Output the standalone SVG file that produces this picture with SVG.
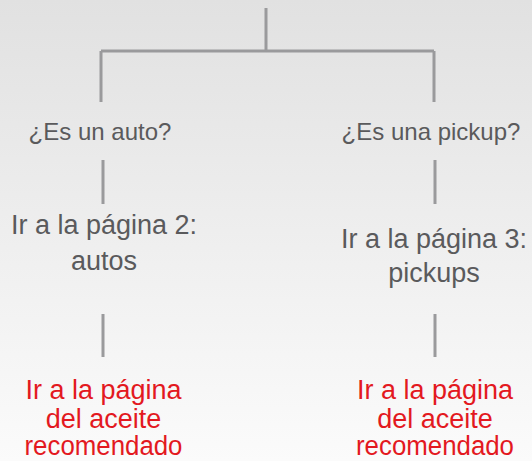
<svg xmlns="http://www.w3.org/2000/svg" width="532" height="461" viewBox="0 0 532 461">
<defs>
<linearGradient id="bg" x1="0" y1="0" x2="0" y2="1">
<stop offset="0" stop-color="#e1e1e1"/>
<stop offset="1" stop-color="#fbfbfb"/>
</linearGradient>
<style>
.ln{stroke:#9a9a9c;stroke-width:3;fill:none}
.t{font-family:"Liberation Sans",Arial,sans-serif;fill:#5a5a5c;text-anchor:middle}
.q{font-size:24px}
.g{font-size:27px}
.r{font-family:"Liberation Sans",Arial,sans-serif;fill:#e3191f;text-anchor:middle;font-size:27px}
</style>
</defs>
<rect width="532" height="461" fill="url(#bg)"/>
<g id="connectors">
<path class="ln" d="M266 8V51M101 51H434M101 51V102M434 51V102"/>
<path class="ln" d="M103 160V204M435 160V204"/>
<path class="ln" d="M103 314V357M435 314V357"/>
</g>
<g id="q-auto"><text class="t q" x="100" y="140">¿Es un auto?</text></g>
<g id="q-pickup"><text class="t q" x="431" y="140">¿Es una pickup?</text></g>
<g id="p-autos"><text class="t g" x="104" y="234">Ir a la página 2:</text><text class="t g" x="104" y="270">autos</text></g>
<g id="p-pickups"><text class="t g" x="434" y="248">Ir a la página 3:</text><text class="t g" x="434" y="282">pickups</text></g>
<g id="aceite-left"><text class="r" x="103.5" y="399">Ir a la página</text><text class="r" x="103.5" y="428">del aceite</text><text class="r" x="103.5" y="455" textLength="158" lengthAdjust="spacingAndGlyphs">recomendado</text></g>
<g id="aceite-right"><text class="r" x="435" y="399">Ir a la página</text><text class="r" x="435" y="428">del aceite</text><text class="r" x="435" y="455" textLength="158" lengthAdjust="spacingAndGlyphs">recomendado</text></g>
</svg>
